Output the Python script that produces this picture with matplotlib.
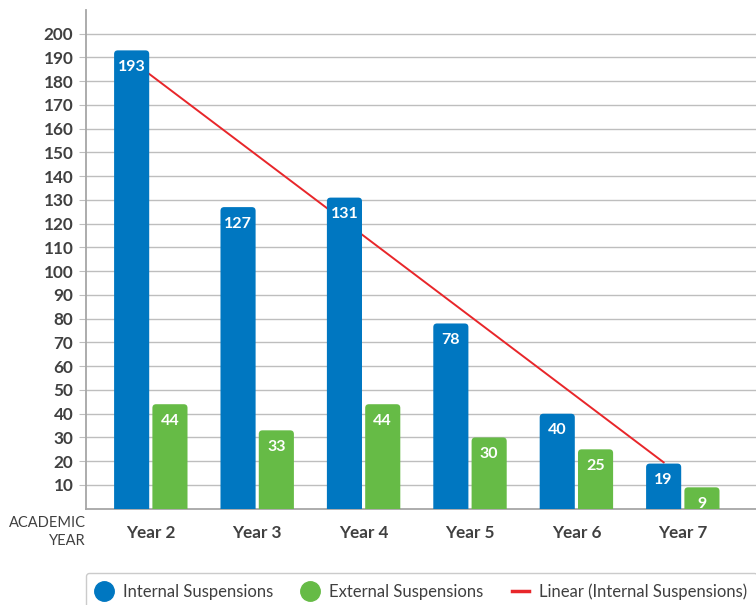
import matplotlib.pyplot as plt
import numpy as np
from matplotlib.patches import FancyBboxPatch
from matplotlib.lines import Line2D

plt.rcParams['font.family'] = ['Lato', 'DejaVu Sans']

years = ['Year 2', 'Year 3', 'Year 4', 'Year 5', 'Year 6', 'Year 7']
internal = [193, 127, 131, 78, 40, 19]
external = [44, 33, 44, 30, 25, 9]

blue = '#0077C1'
green = '#66BB46'
red = '#E8262A'
text_col = '#404040'
grid_col = '#BEBEBE'

fig = plt.figure(figsize=(7.56, 6.05), dpi=100)
ax = fig.add_axes([86 / 756, 1 - 508.7 / 605, 1 - 86 / 756, (508.7 - 10) / 605])

x = np.arange(len(years))
w = 0.33
off = 0.18
ax.set_xlim(-0.609, 5.688)
ax.set_ylim(0, 210)

# y units per pixel / x units per pixel -> aspect for rounded corners
aspect = (210 / 498.7) / (6.297 / 670)


def rounded_bars(xs, vals, color):
    for xi, v in zip(xs, vals):
        p = FancyBboxPatch((xi - w / 2, -10), w, v + 10,
                           boxstyle='round,pad=0,rounding_size=0.035',
                           mutation_aspect=aspect, fc=color, ec='none',
                           zorder=3, clip_on=True)
        ax.add_patch(p)
        ax.annotate(str(v), (xi, v), xytext=(0, -12), textcoords='offset points',
                    ha='center', va='center', color='white', fontsize=11.5,
                    fontweight='bold', zorder=5)


rounded_bars(x - off, internal, blue)
rounded_bars(x + off, external, green)

# linear trendline of internal suspensions (drawn behind the bars)
coef = np.polyfit(x + 1, internal, 1)
xt = np.array([x[0] - off, x[-1] - off])
ax.plot(xt, np.polyval(coef, xt + 1), color=red, lw=1.4, zorder=2)

ax.set_yticks(np.arange(10, 201, 10))
ax.set_xticks(x)
ax.set_xticklabels(years)
ax.tick_params(axis='y', length=5, color=grid_col, labelsize=12.3, labelcolor=text_col, pad=4)
ax.tick_params(axis='x', length=0, labelsize=12.3, labelcolor=text_col, pad=12)
for lab in ax.get_xticklabels() + ax.get_yticklabels():
    lab.set_fontweight('bold')
ax.grid(axis='y', color=grid_col, lw=1, zorder=0)
ax.set_axisbelow(True)
for s in ['top', 'right']:
    ax.spines[s].set_visible(False)
for s in ['left', 'bottom']:
    ax.spines[s].set_color('#A6A6A6')
    ax.spines[s].set_linewidth(1.3)

fig.text(86 / 756, 1 - 532 / 605, 'ACADEMIC\nYEAR', ha='right', va='center',
         fontsize=10.5, color=text_col, linespacing=1.3)

handles = [
    Line2D([], [], marker='o', ls='none', color=blue, markersize=14),
    Line2D([], [], marker='o', ls='none', color=green, markersize=14),
    Line2D([], [], color=red, lw=2.5),
]
labels = ['Internal Suspensions', 'External Suspensions', 'Linear (Internal Suspensions)']
leg = fig.legend(handles, labels, loc='upper left', bbox_to_anchor=(86 / 756, 1 - 573 / 605),
                 ncol=3, frameon=True, fontsize=12, handlelength=1.0, handletextpad=0.6,
                 columnspacing=1.75, borderpad=0.6, borderaxespad=0, fancybox=True)
leg.get_frame().set_edgecolor('#BFBFBF')
leg.get_frame().set_linewidth(1)
for t in leg.get_texts():
    t.set_color(text_col)

fig.savefig('out.png', dpi=100)
